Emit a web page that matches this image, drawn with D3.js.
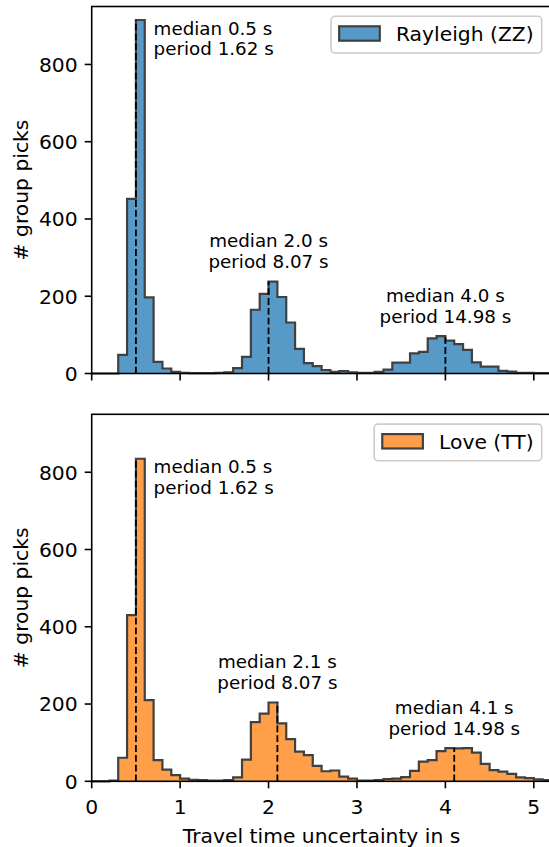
<!DOCTYPE html>
<html>
<head>
<meta charset="utf-8">
<script src="https://cdn.jsdelivr.net/npm/d3@7"></script>
<style>
    body { margin: 0; background: #ffffff; }
    text { font-family: "DejaVu Sans", sans-serif; fill: #000000; }
</style>
</head>
<body>
<div id="chart"></div>
<script>
// Histogram of travel time uncertainty, Rayleigh (ZZ) vs Love (TT)
// bins are 0.1 s wide, starting at 0 s

var binWidth = 0.1;

var rayleighCounts = [
    0, 0, 0, 48, 452, 915, 197, 30, 13, 4,
    2, 1, 1, 1, 2, 3, 14, 43, 165, 206,
    238, 198, 132, 64, 27, 19, 9, 4, 6, 3,
    2, 2, 4, 10, 28, 28, 52, 56, 91, 97,
    85, 76, 61, 29, 18, 18, 7, 5, 2, 2,
    1, 1
];

var loveCounts = [
    0, 0, 2, 61, 430, 835, 210, 55, 30, 16,
    7, 4, 3, 2, 2, 3, 10, 56, 153, 175,
    204, 150, 109, 77, 68, 40, 26, 28, 12, 7,
    2, 2, 3, 6, 7, 11, 27, 51, 55, 78,
    86, 85, 86, 74, 45, 29, 25, 19, 10, 8,
    5, 3
];

var rayleighMedians = [0.5, 2.0, 4.0];
var loveMedians = [0.5, 2.1, 4.1];
var periods = [1.62, 8.07, 14.98];

var xTicks = [0, 1, 2, 3, 4, 5];
var yTicks = [0, 200, 400, 600, 800];

(function() {

    var width = 549;
    var height = 847;

    var left = 91.7;
    var right = 551.5;
    var panelHeight = 367;
    var bigFont = 20.3;
    var smallFont = 18.3;

    var panels = [
        { name: "Rayleigh (ZZ)", counts: rayleighCounts, medians: rayleighMedians, fill: "#5799c7", top: 6.5, xLabels: false },
        { name: "Love (TT)", counts: loveCounts, medians: loveMedians, fill: "#ff9f4a", top: 414.3, xLabels: true }
    ];

    var svg = d3.select("#chart")
        .append("svg")
        .attr("width", width)
        .attr("height", height);

    var x = d3.scaleLinear()
        .domain([0, 5.2])
        .range([left, right]);

    panels.forEach(function(p) {

        var bottom = p.top + panelHeight;

        var y = d3.scaleLinear()
            .domain([0, 950])
            .range([bottom, p.top]);

        var g = svg.append("g");

        // bins with their left edge
        var bins = p.counts.map(function(c, i) {
            return { x0: Math.round(i * binWidth * 10) / 10, count: c };
        });
        var lastEdge = bins.length * binWidth;
        var stepPoints = bins.concat([{ x0: lastEdge, count: bins[bins.length - 1].count }]);

        var area = d3.area()
            .x(function(d) { return x(d.x0); })
            .y0(y(0))
            .y1(function(d) { return y(d.count); })
            .curve(d3.curveStepAfter);

        var outline = d3.line()
            .x(function(d) { return x(d.x0); })
            .y(function(d) { return y(d.count); })
            .curve(d3.curveStepAfter);

        g.append("path")
            .attr("d", area(stepPoints))
            .attr("fill", p.fill);

        g.append("path")
            .attr("d", outline([{ x0: 0, count: 0 }].concat(stepPoints).concat([{ x0: lastEdge, count: 0 }])))
            .attr("fill", "none")
            .attr("stroke", "#404040")
            .attr("stroke-width", 2.2)
            .attr("stroke-linejoin", "miter");

        // median lines and notes
        p.medians.forEach(function(m, k) {

            var peak = d3.max(bins.filter(function(b) {
                return b.x0 >= m - 0.5 && b.x0 < m + 0.5;
            }), function(b) { return b.count; });

            g.append("line")
                .attr("x1", x(m))
                .attr("x2", x(m))
                .attr("y1", y(0))
                .attr("y2", y(peak))
                .attr("stroke", "#000000")
                .attr("stroke-width", 1.8)
                .attr("stroke-dasharray", "6.8,3");

            var lines = ["median " + m.toFixed(1) + " s", "period " + periods[k].toFixed(2) + " s"];
            var note = g.append("text")
                .attr("font-size", smallFont + "px");

            if (k === 0) {
                // first note sits to the right of the tall peak
                lines.forEach(function(t, j) {
                    note.append("tspan")
                        .attr("x", x(m + 0.2))
                        .attr("y", y(peak) + 14.5 + j * 20.6)
                        .text(t);
                });
            } else {
                note.attr("text-anchor", "middle");
                lines.forEach(function(t, j) {
                    note.append("tspan")
                        .attr("x", x(m))
                        .attr("y", y(peak) - 13.5 - (1 - j) * 20.6)
                        .text(t);
                });
            }
        });

        // frame (right spine falls outside the picture)
        g.append("rect")
            .attr("x", left)
            .attr("y", p.top)
            .attr("width", right - left)
            .attr("height", panelHeight)
            .attr("fill", "none")
            .attr("stroke", "#000000")
            .attr("stroke-width", 1.6);

        // x ticks
        xTicks.forEach(function(t) {
            g.append("line")
                .attr("x1", x(t))
                .attr("x2", x(t))
                .attr("y1", bottom)
                .attr("y2", bottom + 7)
                .attr("stroke", "#000000")
                .attr("stroke-width", 1.6);

            if (p.xLabels) {
                g.append("text")
                    .attr("x", x(t))
                    .attr("y", bottom + 32.5)
                    .attr("text-anchor", "middle")
                    .attr("font-size", bigFont + "px")
                    .text(t);
            }
        });

        // y ticks
        yTicks.forEach(function(t) {
            g.append("line")
                .attr("x1", left - 7)
                .attr("x2", left)
                .attr("y1", y(t))
                .attr("y2", y(t))
                .attr("stroke", "#000000")
                .attr("stroke-width", 1.6);

            g.append("text")
                .attr("x", left - 14)
                .attr("y", y(t))
                .attr("dy", "0.36em")
                .attr("text-anchor", "end")
                .attr("font-size", bigFont + "px")
                .text(t);
        });

        // y label
        g.append("text")
            .attr("transform", "translate(28.3," + ((p.top + bottom) / 2) + ") rotate(-90)")
            .attr("text-anchor", "middle")
            .attr("font-size", bigFont + "px")
            .text("# group picks");

        // legend
        var legend = g.append("g");
        var box = legend.append("rect")
            .attr("fill", "#ffffff")
            .attr("fill-opacity", 0.8)
            .attr("stroke", "#cccccc")
            .attr("stroke-width", 1.6)
            .attr("rx", 4)
            .attr("ry", 4);

        var label = legend.append("text")
            .attr("font-size", bigFont + "px")
            .text(p.name);

        var textWidth = label.node().getComputedTextLength();
        var boxRight = right - 9.8;
        var boxTop = p.top + 9.8;
        var boxWidth = 8.1 + 40.6 + 16.2 + textWidth + 8.1;
        var boxLeft = boxRight - boxWidth;

        box.attr("x", boxLeft)
            .attr("y", boxTop)
            .attr("width", boxWidth)
            .attr("height", 36.7);

        legend.append("rect")
            .attr("x", boxLeft + 8.1)
            .attr("y", boxTop + 10)
            .attr("width", 40.6)
            .attr("height", 14.4)
            .attr("fill", p.fill)
            .attr("stroke", "#404040")
            .attr("stroke-width", 2.2);

        label.attr("x", boxLeft + 8.1 + 40.6 + 16.2)
            .attr("y", boxTop + 24.8);
    });

    // x label
    svg.append("text")
        .attr("x", (left + right) / 2)
        .attr("y", 843)
        .attr("text-anchor", "middle")
        .attr("font-size", bigFont + "px")
        .text("Travel time uncertainty in s");

})();
</script>
</body>
</html>
